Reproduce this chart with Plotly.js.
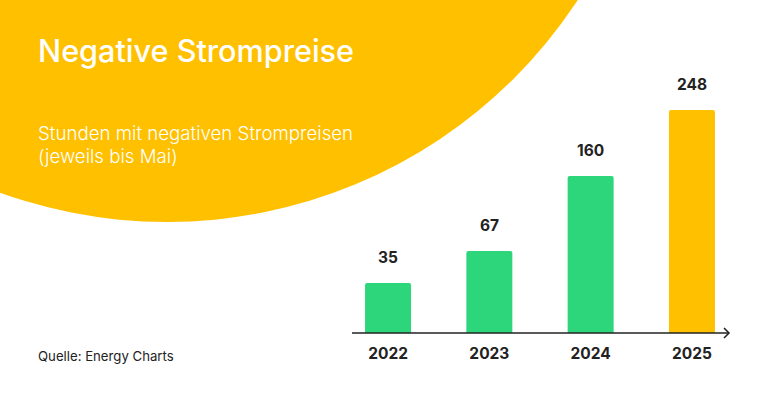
<!DOCTYPE html>
<html><head><meta charset="utf-8">
<script src="https://cdn.plot.ly/plotly-3.0.1.min.js"></script>
<style>html,body{margin:0;padding:0;background:#fff;overflow:hidden}</style></head>
<body><div id="c" style="width:768px;height:401px"></div>
<script>
const years = ["2022","2023","2024","2025"];
const hours = [35,67,160,248];
// Drawn bar heights (the original's bars are not proportional to their labels)
const barHeights = [50,82,157,223];
const barColors = ["#2ED67B","#2ED67B","#2ED67B","#FFC000"];
const F = "Inter, 'Noto Sans', sans-serif";
const title = "Negative Strompreise";
const subtitleLines = ["Stunden mit negativen Strompreisen","(jeweils bis Mai)"];
const source = "Quelle: Energy Charts";
const W = 768, H = 401;
Plotly.newPlot("c",[{
  type:"bar",x:years,y:barHeights,marker:{color:barColors,cornerradius:2,line:{width:0}},
  width:0.454,hoverinfo:"skip"
}],{
  width:W,height:H,margin:{l:0,r:0,t:0,b:0},
  paper_bgcolor:"#fff",plot_bgcolor:"rgba(0,0,0,0)",showlegend:false,
  xaxis:{domain:[337.4/W,742.6/W],range:[-0.5,3.5],type:"category",showgrid:false,zeroline:false,showline:false,
    ticks:"",ticklabelstandoff:9,tickfont:{family:F,size:15.5,color:"#222",weight:700}},
  yaxis:{domain:[68/H,341/H],range:[0,273],showgrid:false,zeroline:false,showticklabels:false,ticks:""},
  shapes:[
   {type:"circle",xref:"paper",yref:"paper",layer:"below",fillcolor:"#FFC000",line:{width:0},
    x0:-324/W,x1:658/W,y0:179/H,y1:(H+760)/H},
   {type:"line",xref:"paper",yref:"paper",x0:352/W,x1:729/W,y0:68/H,y1:68/H,line:{color:"#222",width:1.5}},
   {type:"path",xref:"paper",yref:"paper",line:{color:"#222",width:1.5},
    path:`M ${724/W} ${73/H} L ${729/W} ${68/H} L ${724/W} ${63/H}`}
  ],
  annotations:[
   ...years.map((y,i)=>({text:String(hours[i]),x:i,y:barHeights[i],xref:"x",yref:"y",yshift:26,xanchor:"center",yanchor:"middle",showarrow:false,font:{family:F,size:15.5,color:"#222",weight:700}})),
   {text:title,xref:"paper",yref:"paper",x:36/W,y:(H-51)/H,xanchor:"left",yanchor:"middle",showarrow:false,font:{family:F,size:30.6,color:"#fff",weight:500}},
   ...subtitleLines.map((t,i)=>({text:t,xref:"paper",yref:"paper",x:36/W,y:(H-(133+23*i))/H,xanchor:"left",yanchor:"middle",showarrow:false,font:{family:F,size:18.7,color:"#fff",weight:300}})),
   {text:source,xref:"paper",yref:"paper",x:36/W,y:(H-356)/H,xanchor:"left",yanchor:"middle",showarrow:false,font:{family:F,size:13.2,color:"#222"}}
  ]
},{staticPlot:true});
</script></body></html>
